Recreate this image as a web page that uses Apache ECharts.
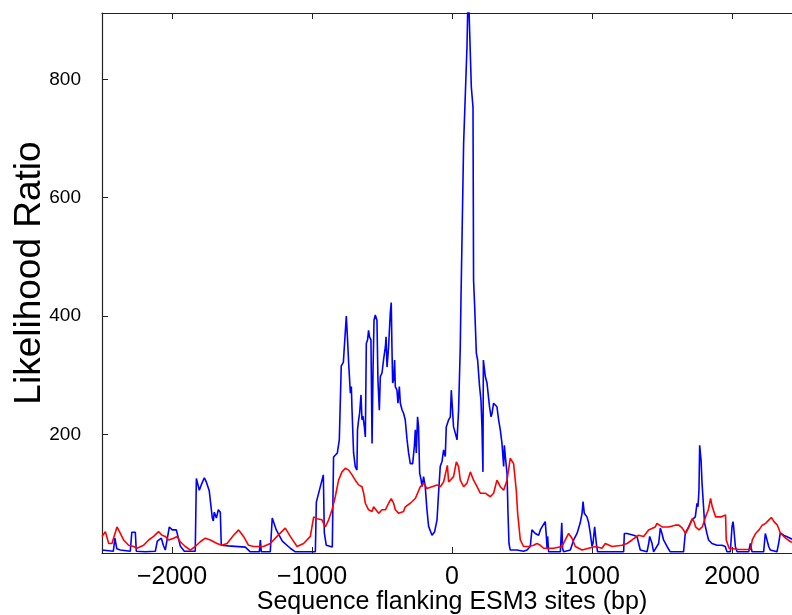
<!DOCTYPE html>
<html>
<head>
<meta charset="utf-8">
<script src="https://cdn.jsdelivr.net/npm/echarts@6/dist/echarts.min.js"></script>
<style>
  html, body { margin: 0; padding: 0; background: #fff; }
  #chart { width: 792px; height: 615px; }
</style>
</head>
<body>
<div id="chart"></div>
<script>
// positions (bp) and likelihood ratio
var blueX = [
  -2500, -2419, -2408, -2394, -2369, -2298, -2287, -2262, -2255, -2191,
  -2119, -2105, -2076, -2062, -2048, -2034, -2019, -1998, -1969, -1941,
  -1912, -1834, -1826, -1805, -1791, -1769, -1755, -1734, -1712, -1705,
  -1698, -1683, -1669, -1655, -1648, -1598, -1476, -1441, -1376, -1369,
  -1362, -1298, -1284, -1255, -1212, -1155, -1119, -976, -969, -919,
  -912, -898, -855, -846, -819, -805, -791, -776, -755, -746,
  -738, -726, -719, -714, -703, -691, -679, -675, -667, -660,
  -650, -643, -636, -626, -619, -612, -603, -596, -589, -579,
  -571, -564, -557, -548, -536, -529, -519, -512, -500, -489,
  -476, -471, -464, -453, -441, -434, -429, -424, -417, -410,
  -405, -393, -386, -376, -369, -357, -346, -334, -321, -310,
  -298, -281, -269, -262, -255, -246, -239, -231, -221, -214,
  -203, -191, -179, -167, -143, -124, -107, -96, -84, -71,
  -60, -48, -41, -24, -12, -5, 4, 11, 24, 36,
  47, 59, 64, 71, 83, 107, 116, 124, 138, 150,
  154, 161, 174, 183, 197, 207, 214, 221, 224, 231,
  238, 250, 261, 268, 279, 286, 297, 309, 321, 333,
  345, 357, 369, 374, 381, 393, 400, 407, 416, 464,
  511, 536, 559, 571, 595, 619, 631, 643, 654, 666,
  674, 679, 683, 690, 774, 784, 790, 797, 845, 869,
  893, 916, 929, 936, 945, 964, 976, 988, 1000, 1007,
  1019, 1024, 1031, 1040, 1226, 1231, 1250, 1297, 1321, 1345,
  1393, 1405, 1412, 1429, 1440, 1476, 1488, 1500, 1511, 1536,
  1559, 1654, 1666, 1690, 1714, 1738, 1750, 1757, 1764, 1769,
  1779, 1786, 1797, 1804, 1821, 1833, 1857, 1893, 1929, 1952,
  1964, 1988, 2000, 2007, 2012, 2024, 2036, 2119, 2131, 2143,
  2226, 2238, 2250, 2262, 2274, 2321, 2333, 2345, 2369, 2416,
  2440, 2500
];
var blueY = [
  5, 3, 25, 7, 5, 3, 35, 35, 3, 2,
  3, 20, 25, 13, 5, 5, 44, 39, 39, 12,
  3, 3, 126, 106, 115, 127, 120, 105, 59, 54,
  69, 59, 73, 69, 13, 12, 10, 2, 2, 22,
  2, 2, 59, 39, 20, 8, 2, 2, 86, 132,
  34, 13, 10, 162, 169, 191, 316, 322, 400, 360,
  320, 270, 281, 241, 169, 146, 140, 208, 225, 236,
  267, 225, 231, 213, 196, 354, 360, 376, 365, 360,
  185, 309, 393, 402, 393, 292, 241, 298, 304, 326,
  348, 365, 314, 348, 405, 423, 348, 287, 292, 326,
  281, 275, 253, 281, 253, 242, 236, 225, 191, 169,
  151, 151, 180, 208, 169, 230, 213, 135, 124, 112,
  129, 112, 73, 45, 30, 36, 56, 101, 146, 155,
  174, 163, 213, 225, 230, 275, 278, 213, 202, 191,
  241, 348, 427, 523, 692, 855, 960, 960, 787, 753,
  461, 422, 337, 326, 281, 258, 213, 137, 326, 329,
  298, 287, 284, 247, 230, 236, 253, 255, 247, 225,
  208, 185, 146, 182, 163, 135, 67, 16, 5, 5,
  3, 5, 11, 39, 33, 30, 39, 44, 47, 53,
  28, 8, 28, 2, 2, 51, 8, 2, 5, 22,
  33, 51, 67, 87, 67, 61, 51, 33, 11, 16,
  44, 46, 16, 2, 2, 33, 33, 30, 28, 5,
  2, 16, 28, 16, 2, 16, 42, 33, 22, 11,
  2, 2, 33, 44, 56, 61, 84, 78, 106, 182,
  157, 118, 118, 51, 33, 22, 16, 13, 13, 11,
  2, 2, 44, 53, 44, 11, 2, 2, 16, 2,
  2, 33, 30, 11, 5, 2, 16, 34, 30, 25,
  22, 20
];
var redX = [
  -2500, -2489, -2476, -2452, -2429, -2393, -2369, -2346, -2310, -2274,
  -2250, -2203, -2167, -2131, -2096, -2071, -2048, -2024, -1988, -1964,
  -1941, -1905, -1869, -1834, -1798, -1762, -1726, -1679, -1643, -1607,
  -1560, -1524, -1489, -1453, -1417, -1346, -1298, -1250, -1191, -1155,
  -1107, -1060, -1012, -988, -964, -929, -905, -881, -857, -834,
  -810, -786, -762, -738, -726, -714, -691, -679, -667, -643,
  -631, -619, -596, -571, -560, -548, -524, -500, -476, -453,
  -434, -417, -405, -381, -346, -334, -298, -262, -226, -203,
  -179, -143, -107, -84, -60, -33, -24, 11, 31, 47,
  59, 83, 107, 131, 154, 179, 202, 238, 274, 297,
  321, 345, 369, 393, 416, 440, 459, 469, 488, 511,
  547, 583, 607, 631, 654, 726, 738, 786, 809, 833,
  857, 881, 929, 976, 1024, 1071, 1095, 1143, 1214, 1250,
  1286, 1333, 1369, 1404, 1452, 1464, 1500, 1547, 1595, 1621,
  1645, 1669, 1693, 1716, 1729, 1740, 1764, 1788, 1811, 1831,
  1847, 1859, 1883, 1919, 1954, 1959, 1979, 2050, 2133, 2145,
  2169, 2193, 2216, 2240, 2264, 2281, 2300, 2324, 2347, 2383,
  2419, 2500
];
var redY = [
  28, 28, 36, 16, 16, 44, 33, 22, 13, 11,
  8, 13, 22, 28, 36, 30, 28, 22, 25, 28,
  19, 11, 5, 11, 19, 25, 22, 16, 13, 16,
  30, 39, 28, 13, 11, 11, 16, 28, 42, 28,
  11, 16, 28, 61, 58, 56, 44, 56, 73, 95,
  123, 137, 143, 140, 143, 132, 123, 120, 115, 112,
  101, 84, 73, 70, 78, 75, 67, 73, 73, 84,
  92, 84, 73, 67, 70, 78, 84, 92, 112, 118,
  109, 112, 115, 112, 120, 148, 120, 129, 154, 146,
  123, 112, 118, 137, 123, 112, 101, 101, 95, 101,
  123, 112, 106, 123, 160, 151, 106, 67, 22, 11,
  11, 13, 16, 13, 8, 8, 5, 11, 22, 33,
  25, 11, 5, 8, 11, 8, 16, 11, 13, 16,
  22, 30, 28, 39, 44, 50, 44, 44, 47, 47,
  42, 33, 44, 58, 53, 44, 39, 44, 61, 73,
  92, 78, 61, 61, 64, 22, 8, 6, 6, 22,
  33, 39, 47, 50, 56, 60, 53, 47, 33, 25,
  19, 12
];
var xTicks = [-2000, -1000, 0, 1000, 2000];
var yTicks = [200, 400, 600, 800];

function pairs(xs, ys) {
  var out = [];
  for (var i = 0; i < xs.length; i++) out.push([xs[i], ys[i]]);
  return out;
}

var FONT = 'Liberation Sans, Arial, sans-serif';
var chart = echarts.init(document.getElementById('chart'), null, { renderer: 'canvas' });

var spine = { show: true, onZero: false, lineStyle: { color: '#222', width: 1.2 } };
var tickLine = { color: '#222', width: 1 };

var option = {
  animation: false,
  backgroundColor: '#fff',
  grid: { left: 102, right: -10, top: 13, bottom: 62, containLabel: false, outerBoundsMode: 'none' },
  xAxis: [
    {
      type: 'value',
      min: -2500,
      max: 2500,
      position: 'bottom',
      axisLine: spine,
      splitLine: { show: false },
      axisTick: { show: true, inside: true, length: 6, customValues: xTicks, lineStyle: tickLine },
      axisLabel: {
        customValues: xTicks,
        margin: 12,
        color: '#000',
        fontFamily: FONT,
        fontSize: 25,
        formatter: function (v) { return v < 0 ? '\u2212' + Math.abs(v) : String(v); }
      },
      name: 'Sequence flanking ESM3 sites (bp)',
      nameLocation: 'middle',
      nameGap: 37,
      nameMoveOverlap: false,
      nameTextStyle: { color: '#000', fontFamily: FONT, fontSize: 25 }
    },
    {
      type: 'value',
      min: -2500,
      max: 2500,
      position: 'top',
      axisLine: spine,
      splitLine: { show: false },
      axisTick: { show: true, inside: true, length: 6, customValues: xTicks, lineStyle: tickLine },
      axisLabel: { show: false }
    }
  ],
  yAxis: {
    type: 'value',
    min: 0,
    max: 912,
    axisLine: spine,
    splitLine: { show: false },
    axisTick: { show: true, inside: true, length: 6, customValues: yTicks, lineStyle: tickLine },
    axisLabel: {
      customValues: yTicks,
      margin: 21,
      color: '#000',
      fontFamily: FONT,
      fontSize: 19
    },
    name: 'Likelihood Ratio',
    nameLocation: 'middle',
    nameRotate: 90,
    nameGap: 54,
    nameMoveOverlap: false,
    nameTextStyle: { color: '#000', fontFamily: FONT, fontSize: 37, padding: [0, 0, 0, 20] }
  },
  series: [
    {
      name: 'blue',
      type: 'line',
      data: pairs(blueX, blueY),
      showSymbol: false,
      clip: true,
      lineStyle: { color: '#0000ff', width: 1.6 },
      itemStyle: { color: '#0000ff' },
      z: 2
    },
    {
      name: 'red',
      type: 'line',
      data: pairs(redX, redY),
      showSymbol: false,
      clip: true,
      lineStyle: { color: '#ff0000', width: 1.6 },
      itemStyle: { color: '#ff0000' },
      z: 3
    }
  ]
};
chart.setOption(option);
</script>
</body>
</html>
